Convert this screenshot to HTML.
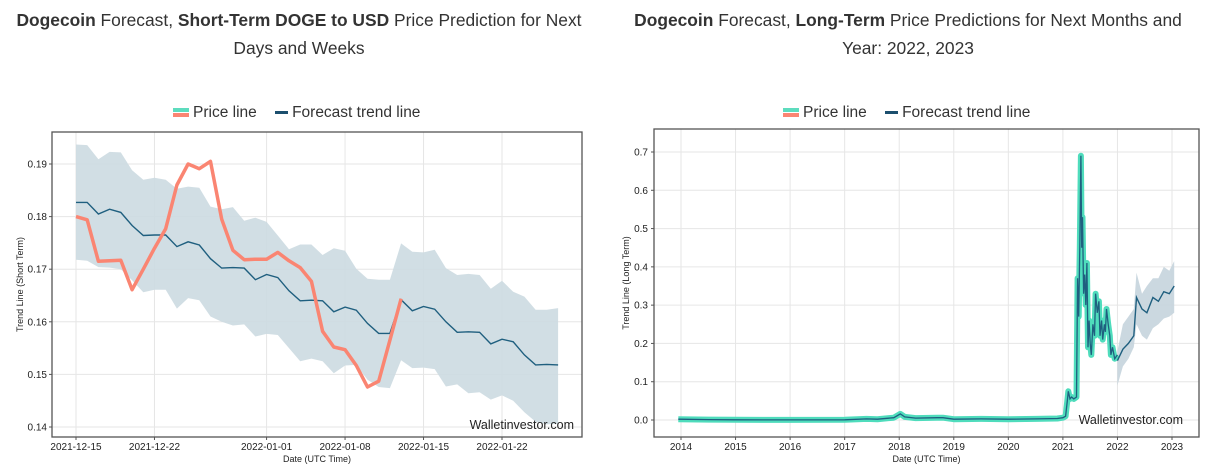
<!DOCTYPE html>
<html><head><meta charset="utf-8">
<style>
html,body{margin:0;padding:0;background:#fff;}
body{width:1223px;height:476px;overflow:hidden;font-family:"Liberation Sans",sans-serif;color:#333;}
.ttl{position:absolute;text-align:center;font-size:17.4px;line-height:28px;color:#333;white-space:nowrap;}
.ttl b{font-weight:bold;}
.leg{position:absolute;top:104px;font-size:15.5px;color:#333;white-space:nowrap;}
.sw{display:inline-block;width:16px;vertical-align:middle;margin-right:4px;}
</style></head>
<body>
<div class="ttl" style="left:0;top:6px;width:598px;"><b>Dogecoin</b> Forecast, <b>Short-Term DOGE to USD</b> Price Prediction for Next<br>Days and Weeks</div>
<div class="ttl" style="left:608px;top:6px;width:600px;"><b>Dogecoin</b> Forecast, <b>Long-Term</b> Price Predictions for Next Months and<br>Year: 2022, 2023</div>

<div class="leg" style="left:173px;">
 <span><span class="sw" style="height:9px;border-top:4px solid #5ddcbe;border-bottom:4px solid #fa8572;box-sizing:border-box;"></span>Price line</span>
 <span style="margin-left:14px;"><span class="sw" style="width:13px;height:3px;background:#1c4f6e;"></span>Forecast trend line</span>
</div>
<div class="leg" style="left:783px;">
 <span><span class="sw" style="height:9px;border-top:4px solid #5ddcbe;border-bottom:4px solid #fa8572;box-sizing:border-box;"></span>Price line</span>
 <span style="margin-left:14px;"><span class="sw" style="width:13px;height:3px;background:#1c4f6e;"></span>Forecast trend line</span>
</div>

<svg id="svg" width="1223" height="476" style="position:absolute;left:0;top:0;" xmlns="http://www.w3.org/2000/svg"></svg>

<script>
// ---------- Left chart data (day offsets from 2021-12-15) ----------
const stTickLabels = ["2021-12-15","2021-12-22","2022-01-01","2022-01-08","2022-01-15","2022-01-22"];
const stTickDays = [0,7,17,24,31,38];
const stYTicks = [0.14,0.15,0.16,0.17,0.18,0.19];
const stForecast = [.1827,.1827,.1805,.1814,.1808,.1783,.1764,.1765,.1765,.1743,.1752,.1746,.1720,.1702,.1703,.1702,.1680,.1690,.1684,.1659,.1640,.1641,.1640,.1619,.1628,.1622,.1597,.1578,.1578,.1642,.1621,.1629,.1624,.1600,.1580,.1581,.1580,.1558,.1567,.1562,.1537,.1518,.1519,.1518];
const stUpper = [.1937,.1936,.1909,.1923,.1922,.1888,.1870,.1874,.1870,.1853,.1857,.1855,.1819,.1814,.1818,.1792,.1798,.1790,.1764,.1738,.1747,.1747,.1727,.1740,.1735,.1701,.1682,.1680,.1680,.1749,.1733,.1732,.1737,.1702,.1689,.1691,.1689,.1663,.1678,.1657,.1648,.1623,.1623,.1626];
const stLower = [.1718,.1716,.1704,.1703,.1700,.1679,.1656,.1661,.1661,.1625,.1645,.1641,.1610,.1600,.1593,.1595,.1572,.1577,.1575,.1550,.1525,.1530,.1525,.1502,.1517,.1518,.1490,.1476,.1474,.1527,.1512,.1513,.1510,.1477,.1481,.1464,.1466,.1452,.1460,.1450,.1428,.1410,.1405,.1406];
const stPrice = [.1800,.1794,.1715,.1716,.1717,.1661,.1700,.1740,.1777,.1860,.1900,.1891,.1905,.1795,.1736,.1718,.1719,.1719,.1732,.1716,.1703,.1677,.1582,.1552,.1547,.1517,.1476,.1487,.1565,.1644];

// ---------- Right chart data (decimal years) ----------
const ltXTicks = [2014,2015,2016,2017,2018,2019,2020,2021,2022,2023];
const ltYTicks = [0,0.1,0.2,0.3,0.4,0.5,0.6,0.7];
const ltPriceDates = [2013.95,2014.5,2015,2016,2017,2017.4,2017.6,2017.9,2018.02,2018.1,2018.3,2018.7,2018.8,2019,2019.5,2020,2020.5,2020.9,2021.0,2021.05,2021.08,2021.1,2021.13,2021.16,2021.2,2021.25,2021.27,2021.29,2021.31,2021.33,2021.345,2021.36,2021.38,2021.4,2021.42,2021.44,2021.46,2021.48,2021.5,2021.52,2021.55,2021.58,2021.6,2021.63,2021.66,2021.68,2021.71,2021.73,2021.76,2021.78,2021.8,2021.83,2021.86,2021.88,2021.91,2021.95,2022.0];
const ltPrice = [.002,.001,.0005,.0003,.0005,.003,.002,.006,.016,.008,.005,.006,.006,.002,.003,.002,.003,.004,.006,.01,.05,.075,.055,.06,.055,.06,.37,.27,.45,.69,.45,.53,.33,.38,.30,.41,.19,.26,.20,.17,.25,.22,.33,.28,.31,.22,.26,.21,.25,.23,.29,.25,.22,.17,.19,.16,.17];
const ltFcDates = [2022.0,2022.1,2022.2,2022.3,2022.35,2022.45,2022.54,2022.65,2022.75,2022.85,2022.95,2023.04];
const ltForecast = [.155,.185,.20,.22,.32,.29,.28,.32,.31,.335,.33,.35];
const ltUpper = [.18,.25,.27,.29,.385,.33,.35,.37,.37,.40,.39,.415];
const ltLower = [.09,.14,.16,.19,.25,.22,.21,.24,.25,.265,.27,.28];

const svg = document.getElementById('svg');
const NS = 'http://www.w3.org/2000/svg';
function mk(tag, attrs, parent){
  const e = document.createElementNS(NS, tag);
  for (const k in attrs) e.setAttribute(k, attrs[k]);
  (parent||svg).appendChild(e);
  return e;
}
function poly(xs, ys, sx, sy){ return xs.map((x,i)=>sx(x).toFixed(1)+','+sy(ys[i]).toFixed(1)).join(' '); }

function frame(g, L, R, T, B){
  const r = mk('rect',{x:L,y:T,width:R-L,height:B-T,fill:'none',stroke:'#555','stroke-width':1.3},g);
  
  
}

// ===== Left chart =====
(function(){
  const L=52,R=582,T=132,B=437;
  const g = mk('g',{});
  
  
  const x0=76, pxDay=(502-76)/38;
  const sx = d => x0 + d*pxDay;
  const sy = v => 164 + (0.19 - v)/0.01*52.6;
  stYTicks.forEach(v=>{
    const l = mk('line',{x1:L,x2:R,y1:sy(v),y2:sy(v),stroke:'#e6e6e6','stroke-width':1},g);
    
    
    mk('line',{x1:L-3,x2:L,y1:sy(v),y2:sy(v),stroke:'#555','stroke-width':1},g);
    const t = mk('text',{x:L-5,y:sy(v)+3.5,'text-anchor':'end','font-size':10,fill:'#222'},g);
    t.textContent = v.toFixed(2);
    
    
  });
  stTickDays.forEach((d,i)=>{
    const l = mk('line',{x1:sx(d),x2:sx(d),y1:T,y2:B,stroke:'#e6e6e6','stroke-width':1},g);
    
    
    mk('line',{x1:sx(d),x2:sx(d),y1:B,y2:B+3,stroke:'#555','stroke-width':1},g);
    const t = mk('text',{x:sx(d),y:450,'text-anchor':'middle','font-size':10,fill:'#222'},g);
    t.textContent = stTickLabels[i];
    
    
  });
  const days = stForecast.map((_,i)=>i);
  const band = mk('polygon',{points: poly(days,stUpper,sx,sy)+' '+poly(days.slice().reverse(),stLower.slice().reverse(),sx,sy), fill:'#ccdae1', 'fill-opacity':0.9},g);
  
  
  const fl = mk('polyline',{points:poly(days,stForecast,sx,sy),fill:'none',stroke:'#1f5f7f','stroke-width':1.4},g);
  
  
  const pd = stPrice.map((_,i)=>i);
  const pl = mk('polyline',{points:poly(pd,stPrice,sx,sy),fill:'none',stroke:'#fa8572','stroke-width':3.5,'stroke-linejoin':'round'},g);
  
  
  frame(g,L,R,T,B);
  const wm = mk('text',{x:574,y:429,'text-anchor':'end','font-size':12.5,fill:'#222'},g);
  wm.textContent='Walletinvestor.com';
  
  
  const xt = mk('text',{x:(L+R)/2,y:462,'text-anchor':'middle','font-size':9,fill:'#222'},g);
  xt.textContent='Date (UTC Time)';
  
  
  const yt = mk('text',{x:0,y:0,'text-anchor':'middle','font-size':9,fill:'#222',transform:'translate(23,'+((T+B)/2)+') rotate(-90)'},g);
  yt.textContent='Trend Line (Short Term)';
  
  
})();

// ===== Right chart =====
(function(){
  const L=654,R=1199,T=129,B=437;
  const g = mk('g',{});
  
  
  const sx = y => 681 + (y-2014)*(1172-681)/9;
  const sy = v => 420 - v/0.7*268;
  ltYTicks.forEach(v=>{
    const l = mk('line',{x1:L,x2:R,y1:sy(v),y2:sy(v),stroke:'#e6e6e6','stroke-width':1},g);
    
    
    mk('line',{x1:L-3,x2:L,y1:sy(v),y2:sy(v),stroke:'#555','stroke-width':1},g);
    const t = mk('text',{x:L-6,y:sy(v)+3.5,'text-anchor':'end','font-size':10,fill:'#222'},g);
    t.textContent = v.toFixed(1);
    
    
  });
  ltXTicks.forEach(y=>{
    const l = mk('line',{x1:sx(y),x2:sx(y),y1:T,y2:B,stroke:'#e6e6e6','stroke-width':1},g);
    
    
    mk('line',{x1:sx(y),x2:sx(y),y1:B,y2:B+3,stroke:'#555','stroke-width':1},g);
    const t = mk('text',{x:sx(y),y:450,'text-anchor':'middle','font-size':10,fill:'#222'},g);
    t.textContent = String(y);
    
    
  });
  const band = mk('polygon',{points: poly(ltFcDates,ltUpper,sx,sy)+' '+poly(ltFcDates.slice().reverse(),ltLower.slice().reverse(),sx,sy), fill:'#c5d4dd','fill-opacity':0.9},g);
  
  
  const pl = mk('polyline',{points:poly(ltPriceDates,ltPrice,sx,sy),fill:'none',stroke:'#4fdcbc','stroke-width':6,'stroke-linejoin':'round'},g);
  
  
  const hl = mk('polyline',{points:poly(ltPriceDates,ltPrice,sx,sy),fill:'none',stroke:'#1f5f7f','stroke-width':1.3},g);
  
  
  const fl = mk('polyline',{points:poly(ltFcDates,ltForecast,sx,sy),fill:'none',stroke:'#1f5f7f','stroke-width':1.4},g);
  
  
  frame(g,L,R,T,B);
  const wm = mk('text',{x:1183,y:424,'text-anchor':'end','font-size':12.5,fill:'#222'},g);
  wm.textContent='Walletinvestor.com';
  
  
  const xt = mk('text',{x:(L+R)/2,y:462,'text-anchor':'middle','font-size':9,fill:'#222'},g);
  xt.textContent='Date (UTC Time)';
  
  
  const yt = mk('text',{x:0,y:0,'text-anchor':'middle','font-size':9,fill:'#222',transform:'translate(629,'+((T+B)/2)+') rotate(-90)'},g);
  yt.textContent='Trend Line (Long Term)';
  
  
})();
</script>
</body></html>
